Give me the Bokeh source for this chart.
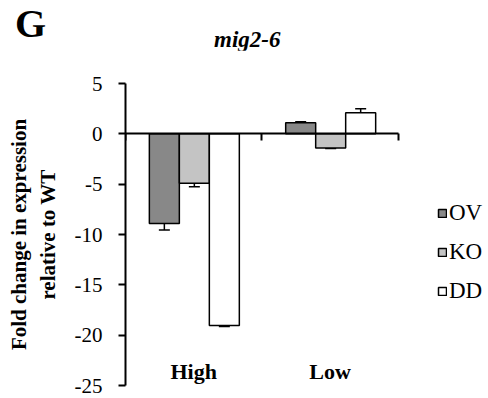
from bokeh.plotting import figure
from bokeh.models import (Range1d, LinearAxis, FixedTicker, Whisker, TeeHead,
                          ColumnDataSource, Legend, LegendItem, Div)
from bokeh.layouts import column
from bokeh.transform import dodge
from bokeh.embed import file_html
from bokeh.resources import INLINE

cats = ["High", "Low"]
series = ["OV", "KO", "DD"]
ov = [-8.9, 1.1]
ov_err = [0.65, 0.1]
ko = [-4.9, -1.4]
ko_err = [0.35, 0.05]
dd = [-19.05, 2.1]
dd_err = [0.1, 0.4]
y_ticks = [5, 0, -5, -10, -15, -20, -25]
panel_letter = "G"
gene = "mig2-6"

colors = {"OV": "#888888", "KO": "#c4c4c4", "DD": "#ffffff"}
offsets = {"OV": -0.215, "KO": 0.005, "DD": 0.225}
FONT = "Liberation Serif"

centers = [i + 0.5 for i in range(len(cats))]
data = dict(xc=centers)
for name, vals, errs in (("OV", ov, ov_err), ("KO", ko, ko_err), ("DD", dd, dd_err)):
    data[name] = vals
    data[name + "_up"] = [v + e for v, e in zip(vals, errs)]
    data[name + "_lo"] = [v - e for v, e in zip(vals, errs)]
source = ColumnDataSource(data)

# header with the panel letter and the gene name
header = Div(
    text=(
        f"<div style=\"position:relative;width:486px;height:50px;font-family:'{FONT}';color:black;\">"
        f"<span style=\"position:absolute;left:15px;top:4px;font-size:40px;line-height:40px;"
        f"font-weight:bold;\">{panel_letter}</span>"
        f"<span style=\"position:absolute;left:214px;top:28px;font-size:23px;line-height:23px;"
        f"font-weight:bold;font-style:italic;\">{gene}</span></div>"
    ),
    width=486, height=50, margin=(0, 0, 0, 0),
)

# frame extends to the right so the legend has room inside it
p = figure(width=486, height=346, title=None,
           x_range=Range1d(0, len(cats) * 1.324),
           y_range=Range1d(min(y_ticks), max(y_ticks)),
           x_axis_location=None, y_axis_location="left",
           output_backend="svg", toolbar_location=None,
           min_border_left=125, min_border_right=0, min_border_top=33, min_border_bottom=11,
           margin=(0, 0, 0, 0))
p.outline_line_color = None
p.grid.visible = False

# y axis
ya = p.yaxis[0]
ya.ticker = FixedTicker(ticks=y_ticks)
ya.major_label_overrides = {t: str(t) for t in y_ticks}
ya.major_tick_in = 0
ya.major_tick_out = 7
ya.minor_tick_line_color = None
ya.axis_line_width = 2
ya.major_tick_line_width = 2
ya.major_label_text_font = FONT
ya.major_label_text_font_size = "21px"
ya.major_label_text_color = "black"
ya.major_label_standoff = 16
ya.axis_label = "Fold change in expression\nrelative to WT"
ya.axis_label_text_font = FONT
ya.axis_label_text_font_style = "bold"
ya.axis_label_text_font_size = "21px"
ya.axis_label_text_color = "black"
ya.axis_label_standoff = 12

# zero axis with ticks at the category boundaries (no labels)
zax = LinearAxis(fixed_location=0, bounds=(0, len(cats)),
                 ticker=FixedTicker(ticks=list(range(len(cats) + 1))),
                 major_tick_in=0, major_tick_out=7, minor_tick_line_color=None,
                 axis_line_width=2, major_tick_line_width=2,
                 major_label_text_color=None, major_label_standoff=0)
p.add_layout(zax, "below")

# category labels just above the bottom of the y range
cax = LinearAxis(fixed_location=min(y_ticks), ticker=FixedTicker(ticks=centers),
                 major_label_overrides={c: n for c, n in zip(centers, cats)},
                 axis_line_color=None, major_tick_line_color=None,
                 minor_tick_line_color=None, major_label_standoff=-4,
                 major_label_text_font=FONT, major_label_text_font_style="bold",
                 major_label_text_font_size="22px", major_label_text_color="black")
p.add_layout(cax, "above")

items = []
for s in series:
    r = p.vbar(x=dodge("xc", offsets[s]), top=s, bottom=0, width=0.22,
               source=source, fill_color=colors[s], line_color="black", line_width=1.5)
    w = Whisker(base=dodge("xc", offsets[s]), upper=s + "_up", lower=s + "_lo",
                source=source, line_width=1.5, line_color="black",
                upper_head=TeeHead(size=11, line_width=1.5),
                lower_head=TeeHead(size=11, line_width=1.5))
    p.add_layout(w)
    items.append(LegendItem(label=s, renderers=[r]))

leg = Legend(items=items, location=(312, 81), orientation="vertical",
             glyph_width=10, glyph_height=10, label_height=20, spacing=13,
             label_text_font=FONT, label_text_font_size="23px", label_standoff=2,
             label_text_color="black",
             padding=0, margin=0, border_line_color=None, background_fill_alpha=0)
p.add_layout(leg)

layout = column(header, p, spacing=0, margin=(0, 0, 0, 0))
open("out.html", "w").write(file_html(layout, INLINE))
